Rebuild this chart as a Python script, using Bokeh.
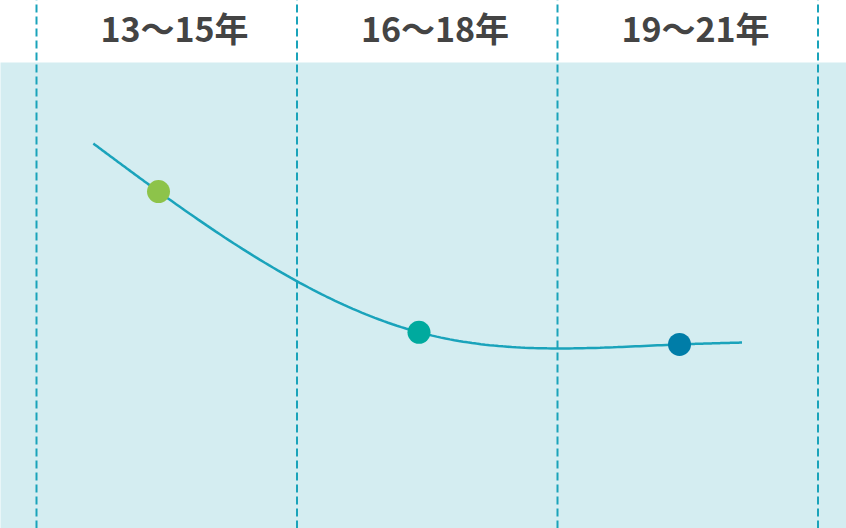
import numpy as np
from bokeh.plotting import figure
from bokeh.models import Range1d, ColumnDataSource
from bokeh.core.properties import value
from bokeh.embed import file_html
from bokeh.resources import INLINE

# ---- data ----
categories = ["13〜15年", "16〜18年", "19〜21年"]
point_values = [72.3, 42.1, 39.5]
point_colors = ["#8dc34a", "#00aa9e", "#007da8"]
line_start_value = 82.6
line_end_value = 39.9

# ---- layout helpers (pixel scale of the reference) ----
UNIT = 260.5          # px per category
PXV = 4.66            # px per value unit
def xpx(px):          # reference pixel -> data x
    return (px - 158) / UNIT
def ypx(py):          # reference pixel -> data y
    return (528 - py) / PXV

p = figure(width=846, height=528, output_backend="svg", toolbar_location=None,
           x_range=Range1d(xpx(0), xpx(846)), y_range=Range1d(ypx(528), ypx(0)),
           min_border=0, outline_line_color=None, background_fill_color="white",
           border_fill_color="white")
p.axis.visible = False
p.grid.visible = False

n = len(categories)
xs = np.arange(n, dtype=float)

# background band
p.quad(left=xpx(-50), right=xpx(900), bottom=ypx(600), top=100,
       fill_color="#d4edf1", line_color=None)

# dashed dividers
div_x = [xpx(36) + i for i in range(n + 1)]
for dx in div_x:
    p.segment(x0=dx, y0=ypx(600), x1=dx, y1=ypx(-50), line_color="#1aa3ba",
              line_width=2, line_dash="8 4")

# smooth curve: natural cubic spline through points plus tail ends
kx = np.concatenate([[xs[0] - 0.25], xs, [xs[-1] + 0.24]])
ky = np.concatenate([[line_start_value], point_values, [line_end_value]])
m = len(kx)
h = np.diff(kx)
A = np.zeros((m, m)); b = np.zeros(m)
A[0, 0] = 1; A[-1, -1] = 1
for i in range(1, m - 1):
    A[i, i - 1] = h[i - 1]; A[i, i] = 2 * (h[i - 1] + h[i]); A[i, i + 1] = h[i]
    b[i] = 6 * ((ky[i + 1] - ky[i]) / h[i] - (ky[i] - ky[i - 1]) / h[i - 1])
M = np.linalg.solve(A, b)
cx, cy = [], []
for i in range(m - 1):
    t = np.linspace(kx[i], kx[i + 1], 60)
    a = (kx[i + 1] - t) / h[i]; c = (t - kx[i]) / h[i]
    yy = (a * ky[i] + c * ky[i + 1]
          + ((a ** 3 - a) * M[i] + (c ** 3 - c) * M[i + 1]) * h[i] ** 2 / 6)
    cx.extend(t); cy.extend(yy)
p.line(cx, cy, line_color="#1aa3bb", line_width=2.5)

# points
p.scatter(x=xs, y=point_values, size=23, fill_color=point_colors, line_color=None)

# header labels
src = ColumnDataSource(dict(x=xs + 16 / UNIT, y=[ypx(27)] * n, t=categories))
p.text(x="x", y="y", text="t", source=src, text_font=value("Noto Sans CJK JP"),
       text_font_style="bold", text_font_size="34px", text_color="#444444",
       text_align="center", text_baseline="middle")

open("out.html", "w").write(file_html(p, INLINE))
